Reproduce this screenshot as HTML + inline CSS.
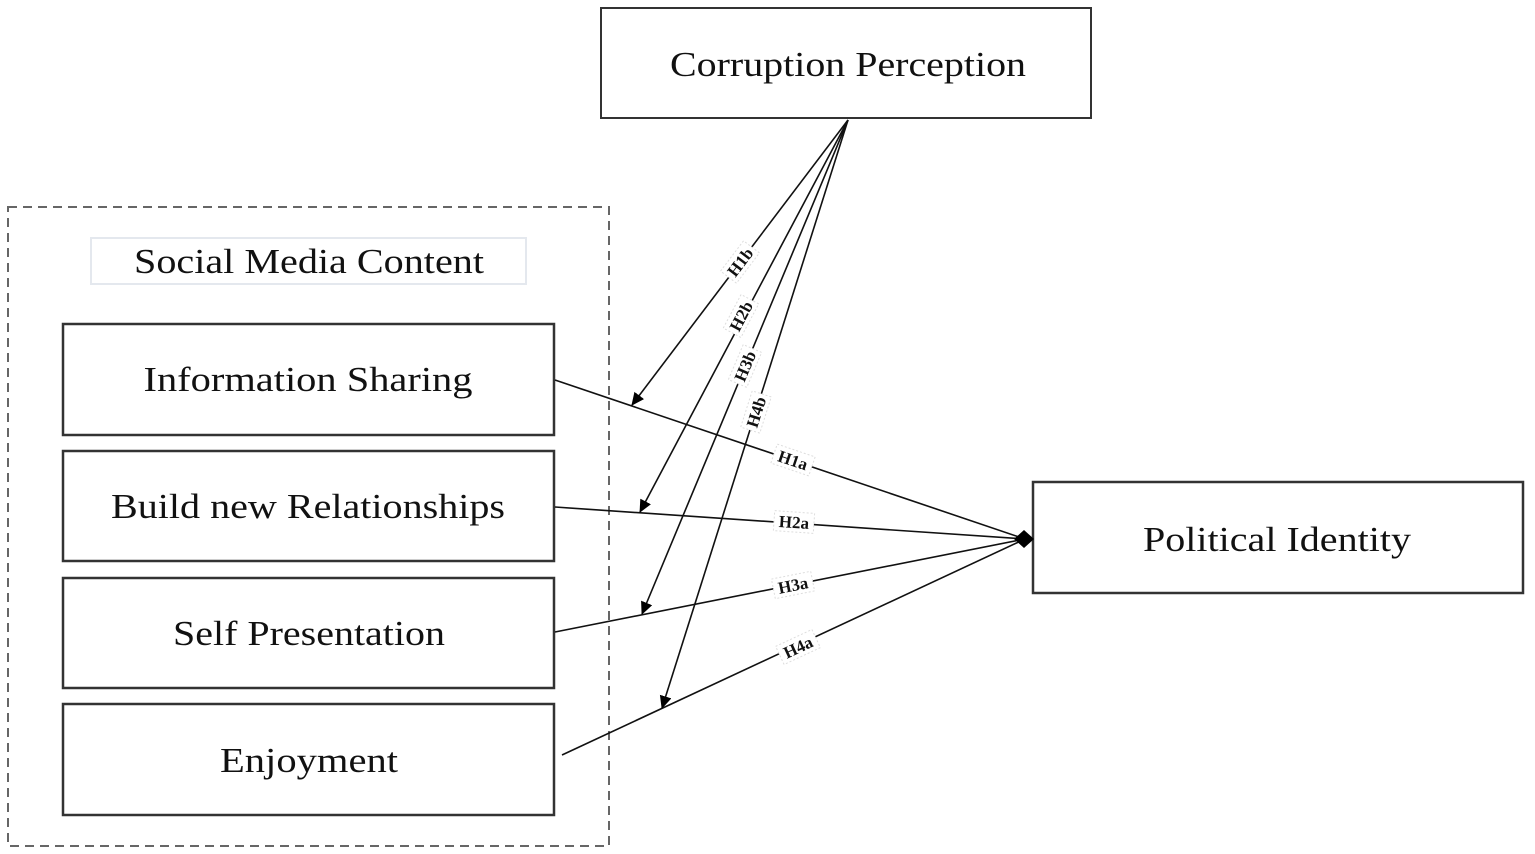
<!DOCTYPE html>
<html><head><meta charset="utf-8"><style>
html,body{margin:0;padding:0;background:#fff;}
svg{display:block;}
text{font-family:"Liberation Serif",serif;fill:#111;}
.big{font-size:35px;}
.lbl{font-size:17px;font-weight:bold;}
</style></head><body>
<svg width="1535" height="854" viewBox="0 0 1535 854" xmlns="http://www.w3.org/2000/svg">
<defs>
<marker id="ar" markerWidth="14" markerHeight="14" refX="12" refY="6" orient="auto" markerUnits="userSpaceOnUse">
<path d="M0,0 L13,6 L0,12 Z" fill="#000"/>
</marker>
</defs>
<rect x="8" y="207" width="601" height="639" fill="none" stroke="#666" stroke-width="2" stroke-dasharray="9,6"/>
<rect x="91" y="238" width="435" height="46" fill="none" stroke="#e4e8ee" stroke-width="2"/>
<text class="big" x="309" y="273" text-anchor="middle" textLength="350" lengthAdjust="spacingAndGlyphs">Social Media Content</text>

<rect x="601" y="8" width="490" height="110" fill="#fff" stroke="#333" stroke-width="2"/>
<text class="big" x="848" y="76" text-anchor="middle" textLength="356" lengthAdjust="spacingAndGlyphs">Corruption Perception</text>

<g fill="#fff" stroke="#333" stroke-width="2.5">
<rect x="63" y="324" width="491" height="111"/>
<rect x="63" y="451" width="491" height="110"/>
<rect x="63" y="578" width="491" height="110"/>
<rect x="63" y="704" width="491" height="111"/>
<rect x="1033" y="482" width="490" height="111"/>
</g>
<text class="big" x="308" y="391" text-anchor="middle" textLength="329" lengthAdjust="spacingAndGlyphs">Information Sharing</text>
<text class="big" x="308" y="518" text-anchor="middle" textLength="394" lengthAdjust="spacingAndGlyphs">Build new Relationships</text>
<text class="big" x="309" y="645" text-anchor="middle" textLength="272" lengthAdjust="spacingAndGlyphs">Self Presentation</text>
<text class="big" x="309" y="772" text-anchor="middle" textLength="178" lengthAdjust="spacingAndGlyphs">Enjoyment</text>
<text class="big" x="1277" y="551" text-anchor="middle" textLength="268" lengthAdjust="spacingAndGlyphs">Political Identity</text>

<g stroke="#111" stroke-width="1.6" fill="none">
<line x1="555" y1="380" x2="1025" y2="539"/>
<line x1="555" y1="507" x2="1025" y2="539"/>
<line x1="555" y1="632" x2="1025" y2="539"/>
<line x1="562" y1="755" x2="1025" y2="539"/>
<line x1="848" y1="120" x2="632" y2="405" marker-end="url(#ar)"/>
<line x1="848" y1="120" x2="640" y2="512" marker-end="url(#ar)"/>
<line x1="848" y1="120" x2="642" y2="614" marker-end="url(#ar)"/>
<line x1="848" y1="120" x2="662" y2="708" marker-end="url(#ar)"/>
</g>
<path d="M1024,530 L1034,539 L1024,548 L1014,539 Z" fill="#000"/>

<g class="lbl">
<g transform="translate(740,262) rotate(-52.8)"><rect x="-19" y="-10" width="38" height="20" fill="#fff" stroke="#ddd" stroke-dasharray="2,2"/><text x="0" y="6" text-anchor="middle">H1b</text></g>
<g transform="translate(741,316) rotate(-62)"><rect x="-19" y="-10" width="38" height="20" fill="#fff" stroke="#ddd" stroke-dasharray="2,2"/><text x="0" y="6" text-anchor="middle">H2b</text></g>
<g transform="translate(745,366) rotate(-67)"><rect x="-19" y="-10" width="38" height="20" fill="#fff" stroke="#ddd" stroke-dasharray="2,2"/><text x="0" y="6" text-anchor="middle">H3b</text></g>
<g transform="translate(756,412) rotate(-72.4)"><rect x="-19" y="-10" width="38" height="20" fill="#fff" stroke="#ddd" stroke-dasharray="2,2"/><text x="0" y="6" text-anchor="middle">H4b</text></g>
<g transform="translate(793,460) rotate(18.7)"><rect x="-20" y="-10" width="40" height="20" fill="#fff" stroke="#ddd" stroke-dasharray="2,2"/><text x="0" y="6" text-anchor="middle">H1a</text></g>
<g transform="translate(794,522) rotate(3.9)"><rect x="-20" y="-10" width="40" height="20" fill="#fff" stroke="#ddd" stroke-dasharray="2,2"/><text x="0" y="6" text-anchor="middle">H2a</text></g>
<g transform="translate(793,585) rotate(-11.2)"><rect x="-20" y="-10" width="40" height="20" fill="#fff" stroke="#ddd" stroke-dasharray="2,2"/><text x="0" y="6" text-anchor="middle">H3a</text></g>
<g transform="translate(798,647) rotate(-25)"><rect x="-20" y="-10" width="40" height="20" fill="#fff" stroke="#ddd" stroke-dasharray="2,2"/><text x="0" y="6" text-anchor="middle">H4a</text></g>
</g>
</svg>
</body></html>
